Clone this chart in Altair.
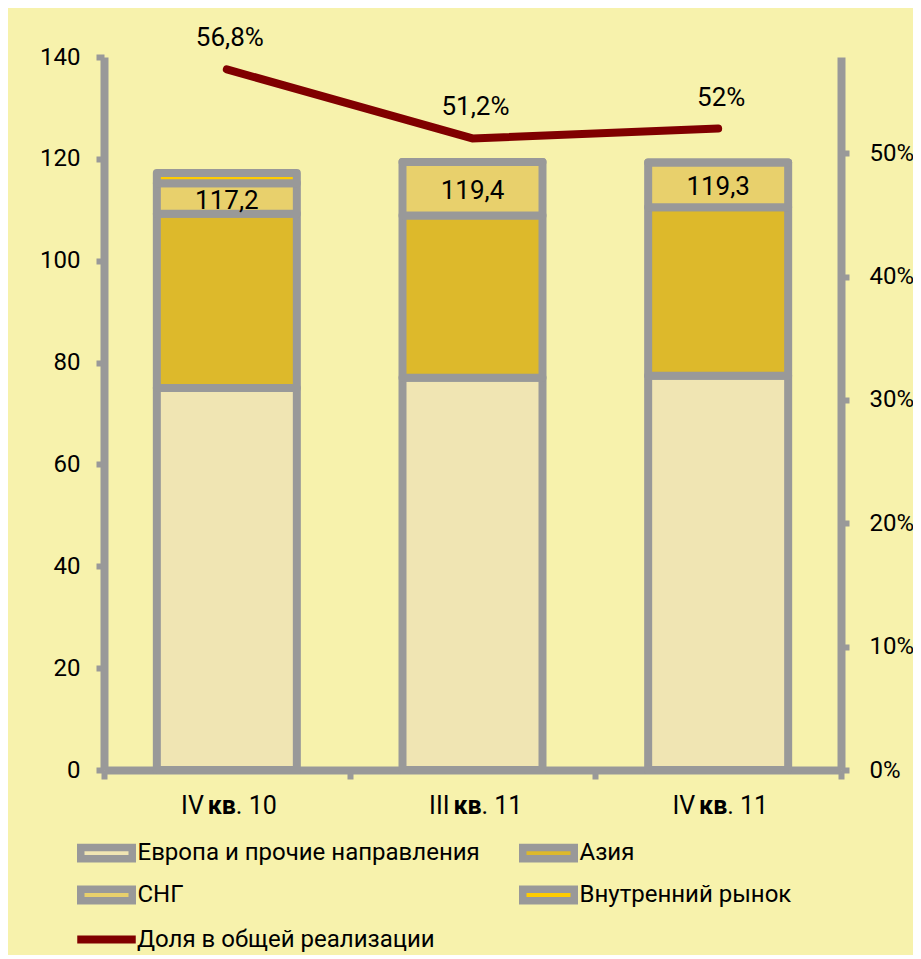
import altair as alt
import pandas as pd

# ---------------- data ----------------
quarters = ["IV кв. 10", "III кв. 11", "IV кв. 11"]
q_prefix = ["IV", "III", "IV"]
q_bold = ["кв", "кв", "кв"]
q_suffix = [". 10", ". 11", ". 11"]

segments = ["Европа и прочие направления", "Азия", "СНГ", "Внутренний рынок"]
europe = [75.0, 77.0, 77.4]
asia = [34.2, 31.9, 33.1]
cis = [6.0, 10.5, 8.8]
domestic = [2.0, 0.0, 0.0]
totals = [117.2, 119.4, 119.3]

share_name = "Доля в общей реализации"
share = [56.8, 51.2, 52.0]

seg_colors = ["#F0E5B3", "#DDB92B", "#E8D06C", "#FFCC00"]
LINE_COLOR = "#800000"
GRAY = "#999999"
BG = "#F7F2AC"
FONT = "Roboto"


def fmt(v):
    return f"{v:g}".replace(".", ",")


rows = []
for i, q in enumerate(quarters):
    for k, (seg, arr) in enumerate(zip(segments, [europe, asia, cis, domestic])):
        rows.append({"q": q, "seg": seg, "v": arr[i], "k": k})
bars_df = pd.DataFrame(rows)

tot_df = pd.DataFrame({
    "q": quarters,
    "ypos": [e + a + c / 2 for e, a, c in zip(europe, asia, cis)],
    "label": [fmt(t) for t in totals],
})

lab_df = pd.DataFrame({"q": quarters, "pre": q_prefix, "bold": q_bold, "suf": q_suffix})

line_df = pd.DataFrame({
    "q": quarters,
    "share": share,
    "label": [fmt(s) + "%" for s in share],
    "name": [share_name] * 3,
})

# ---------------- encodings ----------------
x_enc = alt.X(
    "q:N", sort=quarters, title=None,
    scale=alt.Scale(type="band", paddingInner=0, paddingOuter=0),
    axis=alt.Axis(title=None, labels=False, domainColor=GRAY, domainWidth=8,
                  tickColor=GRAY, tickWidth=6, tickSize=9, tickBand="extent"),
)

left_axis = alt.Axis(title=None, values=list(range(0, 141, 20)), domainColor=GRAY,
                     domainWidth=8, tickColor=GRAY, tickWidth=6, tickSize=8,
                     labelFont=FONT, labelFontSize=24, labelColor="black",
                     labelPadding=16, grid=False)
left_scale = alt.Scale(domain=[0, 140], nice=False)

right_axis = alt.Axis(title=None, orient="right", values=[0, 10, 20, 30, 40, 50],
                      labelExpr="datum.value + '%'", domainColor=GRAY, domainWidth=8,
                      tickColor=GRAY, tickWidth=6, tickSize=8, labelFont=FONT,
                      labelFontSize=24, labelColor="black", labelPadding=20, grid=False)
right_scale = alt.Scale(domain=[0, 57.8], nice=False)

bars = alt.Chart(bars_df).mark_bar(
    size=140, stroke=GRAY, strokeWidth=8, strokeJoin="round"
).encode(
    x=x_enc,
    y=alt.Y("v:Q", stack="zero", scale=left_scale, axis=left_axis, title=None),
    fill=alt.Fill(
        "seg:N", sort=segments,
        scale=alt.Scale(domain=segments, range=seg_colors),
        legend=alt.Legend(
            title=None, orient="none", legendX=-27, legendY=781, columns=2,
            direction="horizontal",
            columnPadding=27, rowPadding=0, padding=0,
            symbolType="M-2.289,-0.511H2.289V0.511H-2.289Z", symbolSize=506.25,
            symbolStrokeColor=GRAY, symbolStrokeWidth=7.5, symbolOffset=14.5,
            labelOffset=16, labelFont=FONT, labelFontSize=24, labelColor="black",
            labelLimit=500,
        ),
    ),
    order=alt.Order("k:Q", sort="ascending"),
)

tot_text = alt.Chart(tot_df).mark_text(
    font=FONT, fontSize=26, color="black", baseline="middle", dy=2
).encode(
    x=alt.X("q:N", sort=quarters),
    y=alt.Y("ypos:Q", scale=left_scale, axis=left_axis, title=None),
    text="label:N",
)

lab_pre = alt.Chart(lab_df).mark_text(
    font=FONT, fontSize=25, color="black", baseline="middle", align="right", dx=-23
).encode(x=alt.X("q:N", sort=quarters), y=alt.value(749), text="pre:N")
lab_bold = alt.Chart(lab_df).mark_text(
    font=FONT, fontSize=25, fontWeight="bold", color="black", baseline="middle",
    align="center", dx=-5
).encode(x=alt.X("q:N", sort=quarters), y=alt.value(749), text="bold:N")
lab_suf = alt.Chart(lab_df).mark_text(
    font=FONT, fontSize=25, color="black", baseline="middle", align="left", dx=9
).encode(x=alt.X("q:N", sort=quarters), y=alt.value(749), text="suf:N")

left = alt.layer(bars, tot_text, lab_pre, lab_bold, lab_suf)

line = alt.Chart(line_df).mark_line(strokeWidth=8, strokeCap="round").encode(
    x=alt.X("q:N", sort=quarters),
    y=alt.Y("share:Q", scale=right_scale, axis=right_axis, title=None),
    stroke=alt.Stroke(
        "name:N", scale=alt.Scale(domain=[share_name], range=[LINE_COLOR]),
        legend=alt.Legend(
            title=None, orient="none", legendX=-27, legendY=867, padding=0,
            symbolType="M-2.6,0H2.6", symbolSize=506.25, symbolStrokeWidth=8,
            symbolStrokeColor=LINE_COLOR, symbolOffset=14, labelOffset=15,
            labelFont=FONT, labelFontSize=24, labelColor="black", labelLimit=500,
        ),
    ),
)
line_text = alt.Chart(line_df).mark_text(
    font=FONT, fontSize=26, color="black", baseline="middle", dy=-31, dx=3
).encode(
    x=alt.X("q:N", sort=quarters),
    y=alt.Y("share:Q", scale=right_scale, axis=right_axis, title=None),
    text="label:N",
)
right = alt.layer(line, line_text)

chart = alt.layer(left, right).resolve_scale(y="independent").properties(
    width=737, height=713,
    padding={"left": 96, "top": 49, "right": 72, "bottom": 185},
    autosize=alt.AutoSizeParams(type="none"),
    background=BG,
).configure_view(stroke=None).configure_axis(grid=False)

chart.save("out.html", embed_options={"renderer": "svg", "actions": False})
